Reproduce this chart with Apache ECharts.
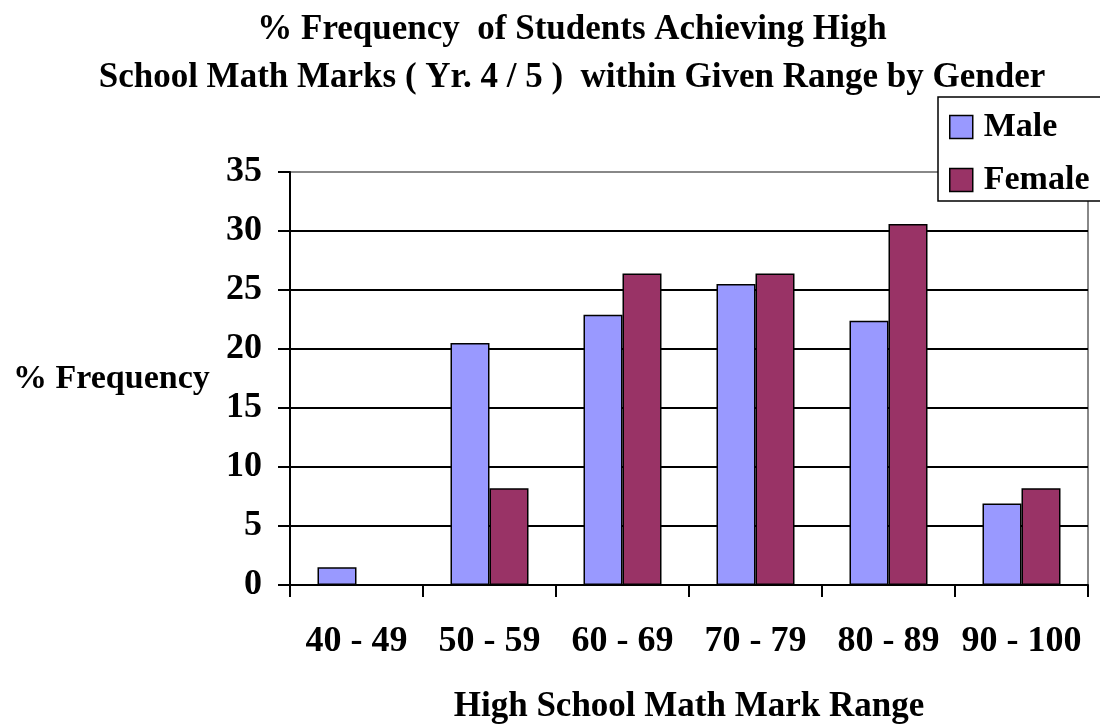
<!DOCTYPE html>
<html>
<head>
<meta charset="utf-8">
<script src="https://cdn.jsdelivr.net/npm/echarts@6/dist/echarts.min.js"></script>
<style>
  html, body { margin: 0; padding: 0; background: #fff; }
  #chart { width: 1100px; height: 727px; }
</style>
</head>
<body>
<div id="chart"></div>
<script>
// Mark ranges and percentage frequency of students in each range
const categories = ['40 - 49', '50 - 59', '60 - 69', '70 - 79', '80 - 89', '90 - 100'];
const maleValues = [1.5, 20.5, 22.9, 25.5, 22.4, 6.9];
const femaleValues = [0, 8.2, 26.4, 26.4, 30.6, 8.2];
const yTicks = [0, 5, 10, 15, 20, 25, 30, 35];

const FONT = '"Liberation Serif", "Times New Roman", serif';

const chart = echarts.init(document.getElementById('chart'), null, { renderer: 'canvas' });

chart.setOption({
  backgroundColor: '#fff',
  animation: false,
  title: {
    text: '% Frequency  of Students Achieving High\nSchool Math Marks ( Yr. 4 / 5 )  within Given Range by Gender',
    left: 567,
    top: 1,
    textAlign: 'center',
    textStyle: { fontFamily: FONT, fontWeight: 'bold', fontSize: 35, lineHeight: 48, color: '#000' }
  },
  legend: {
    orient: 'vertical',
    left: 938,
    top: 97,
    padding: [13, 30, 4, 11],
    itemGap: 19,
    itemWidth: 23,
    itemHeight: 23,
    icon: 'rect',
    backgroundColor: '#fff',
    borderColor: '#000',
    borderWidth: 1.5,
    borderRadius: 0,
    itemStyle: { borderColor: '#000', borderWidth: 1.5 },
    textStyle: { fontFamily: FONT, fontWeight: 'bold', fontSize: 34, lineHeight: 34, color: '#000', padding: [0, 0, 0, 6] },
    data: ['Male', 'Female']
  },
  grid: {
    left: 290,
    right: 12,
    top: 172,
    bottom: 142,
    show: true,
    borderColor: '#888',
    borderWidth: 2,
    containLabel: false,
    outerBoundsMode: 'none'
  },
  xAxis: {
    type: 'category',
    data: categories,
    name: 'High School Math Mark Range',
    nameLocation: 'middle',
    nameGap: 104,
    nameTextStyle: { fontFamily: FONT, fontWeight: 'bold', fontSize: 35, color: '#000' },
    axisLine: { lineStyle: { color: '#000', width: 2 } },
    axisTick: { show: true, length: 12, lineStyle: { color: '#000', width: 2 } },
    axisLabel: { interval: 0, fontFamily: FONT, fontWeight: 'bold', fontSize: 36, color: '#000', margin: 39 }
  },
  yAxis: {
    type: 'value',
    min: yTicks[0],
    max: yTicks[yTicks.length - 1],
    interval: 5,
    axisLine: { show: true, lineStyle: { color: '#000', width: 2 } },
    axisTick: { show: true, length: 12, lineStyle: { color: '#000', width: 2 } },
    axisLabel: { fontFamily: FONT, fontWeight: 'bold', fontSize: 36, color: '#000', margin: 28 },
    splitLine: { show: true, lineStyle: { color: ['#000', '#000', '#000', '#000', '#000', '#000', '#000', '#888'], width: 2 } }
  },
  graphic: [{
    type: 'text',
    left: 13,
    top: 362,
    style: { text: '% Frequency', fontFamily: FONT, fontWeight: 'bold', fontSize: 34, fill: '#000' }
  }],
  series: [
    {
      name: 'Male',
      type: 'bar',
      data: maleValues,
      barWidth: 39,
      barGap: '0%',
      itemStyle: { color: '#9999FF', borderColor: '#000', borderWidth: 1.5 }
    },
    {
      name: 'Female',
      type: 'bar',
      data: femaleValues,
      barWidth: 39,
      barGap: '0%',
      itemStyle: { color: '#993366', borderColor: '#000', borderWidth: 1.5 }
    }
  ]
});
</script>
</body>
</html>
